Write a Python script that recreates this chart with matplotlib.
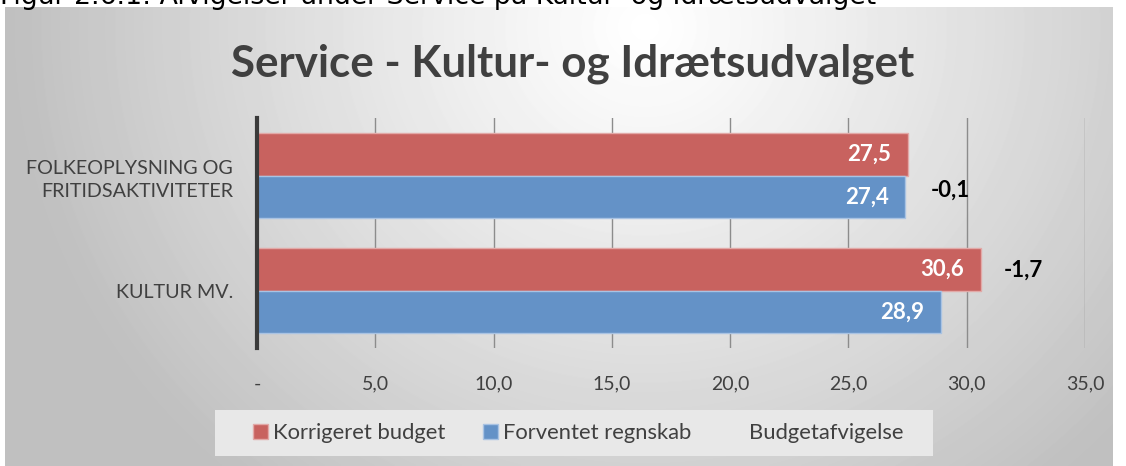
import numpy as np
import matplotlib
matplotlib.use("Agg")
import matplotlib.pyplot as plt
from matplotlib.patches import Patch, Rectangle

# data
kategorier = ["KULTUR MV.", "FOLKEOPLYSNING OG\nFRITIDSAKTIVITETER"]
korrigeret_budget = [30.6, 27.5]
forventet_regnskab = [28.9, 27.4]
budgetafvigelse = [-1.7, -0.1]
x_ticks = [0, 5, 10, 15, 20, 25, 30, 35]
x_ticklabels = ["-", "5,0", "10,0", "15,0", "20,0", "25,0", "30,0", "35,0"]
serier = ["Korrigeret budget", "Forventet regnskab", "Budgetafvigelse"]

titel = "Service - Kultur- og Idrætsudvalget"
figurtekst = "Figur 2.6.1: Afvigelser under Service på Kultur- og Idrætsudvalget"

rod = "#c8625f"
blaa = "#6492c7"
tekstfarve = "#404040"
skrift = "Lato"

W, H = 1126, 466
fig = plt.figure(figsize=(W / 100, H / 100), dpi=100)
fig.patch.set_facecolor("white")

# baggrund med radial gradient (grå i kanterne, hvid foroven i midten)
bg = fig.add_axes([5 / W, 0, (1113 - 5) / W, (H - 7) / H], zorder=-5)
yy, xx = np.mgrid[0:459, 0:1108]
r = np.sqrt(((xx - 640) / 640.0) ** 2 + ((yy - 20) / 600.0) ** 2)
val = 1.0 - 0.25 * np.clip(r, 0, 1.0) ** 1.1
bg.imshow(val, cmap="gray", vmin=0, vmax=1, aspect="auto", interpolation="bilinear")
bg.axis("off")

# figurtekst øverst (delvist afskåret som i originalen)
t = fig.text(0.0, 1 - 4 / H, figurtekst, fontsize=15, family="DejaVu Sans",
             color="black", va="baseline", ha="left")
fig.canvas.draw()
bb = t.get_window_extent()
t.set_fontsize(15 * 878 / bb.width)

ax = fig.add_axes([257 / W, 1 - 348 / H, (1085 - 257) / W, (348 - 118) / H])
ax.set_facecolor("none")

y = np.arange(len(kategorier))
h = 0.37
ax.barh(y + h / 2, korrigeret_budget, height=h, color=rod, edgecolor="#e2a9a7",
        linewidth=1, zorder=3)
ax.barh(y - h / 2, forventet_regnskab, height=h, color=blaa, edgecolor="#a9c3e3",
        linewidth=1, zorder=3)

for i in range(len(kategorier)):
    ax.text(korrigeret_budget[i] - 0.7, y[i] + h / 2, f"{korrigeret_budget[i]:.1f}".replace(".", ","),
            ha="right", va="center", color="white", fontsize=16, fontweight="bold",
            family=skrift, zorder=4)
    ax.text(forventet_regnskab[i] - 0.7, y[i] - h / 2, f"{forventet_regnskab[i]:.1f}".replace(".", ","),
            ha="right", va="center", color="white", fontsize=16, fontweight="bold",
            family=skrift, zorder=4)

# budgetafvigelse-etiketter til højre for søjlerne
dy = [0.18, -0.13]
for i in range(len(kategorier)):
    xpos = max(korrigeret_budget[i], forventet_regnskab[i]) + 1.8
    ax.text(xpos, y[i] + dy[i], f"{budgetafvigelse[i]:.1f}".replace(".", ","),
            ha="center", va="center", color="black", fontsize=16, fontweight="bold",
            family=skrift, zorder=4)

ax.set_xlim(0, 35)
ax.set_ylim(-0.5, 1.5)
ax.set_xticks(x_ticks)
ax.set_xticklabels(x_ticklabels, fontsize=14, color=tekstfarve, family=skrift)
ax.set_yticks(y)
ax.set_yticklabels(kategorier, fontsize=14.2, color=tekstfarve, family=skrift,
                   linespacing=1.45)
ax.tick_params(axis="x", length=0, pad=20)
ax.tick_params(axis="y", length=0, pad=17.3)
ax.xaxis.grid(True, color="#8c8c8c", linewidth=1, zorder=0)
for s in ["top", "right", "bottom"]:
    ax.spines[s].set_visible(False)
ax.spines["left"].set_color("#3a3a3a")
ax.spines["left"].set_linewidth(3)
ax.spines["left"].set_zorder(5)

fig.text(573 / W, 1 - 77 / H, titel, ha="center", va="baseline", fontsize=31.6,
         fontweight="bold", color=tekstfarve, family=skrift)

# forklaringsboks
fig.patches.append(Rectangle((215 / W, 1 - 456 / H), (933 - 215) / W, 46 / H,
                             transform=fig.transFigure, facecolor="#e8e8e8",
                             edgecolor="none", zorder=0))
handles = [Patch(facecolor=rod, edgecolor="#e2a9a7"),
           Patch(facecolor=blaa, edgecolor="#a9c3e3"),
           Patch(facecolor="none", edgecolor="none")]
leg = fig.legend(handles, serier, loc="center", bbox_to_anchor=(578 / W, 1 - 433 / H),
                 ncol=3, frameon=False, prop={"family": skrift, "size": 15.8},
                 handlelength=0.7, handleheight=0.7, handletextpad=0.23,
                 columnspacing=1.7, borderpad=0.2)
for txt in leg.get_texts():
    txt.set_color(tekstfarve)

fig.savefig("out.png", dpi=100)
